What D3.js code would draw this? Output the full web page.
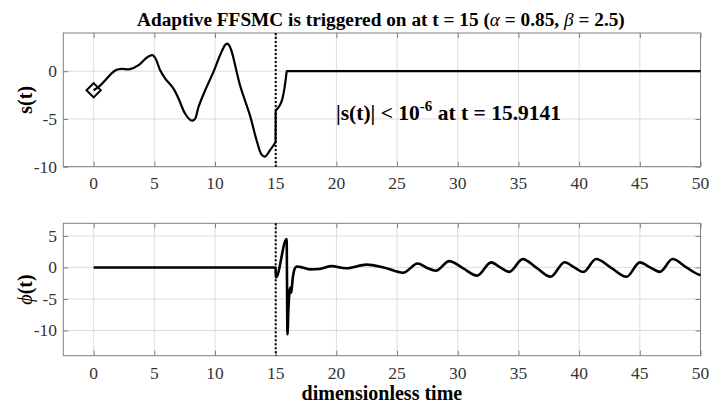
<!DOCTYPE html>
<html>
<head>
<meta charset="utf-8">
<script src="https://cdn.jsdelivr.net/npm/d3@7"></script>
<style>
  html, body { margin: 0; padding: 0; background: #fff; }
  svg text { font-family: "Liberation Serif", "DejaVu Serif", serif; }
</style>
</head>
<body>
<svg id="chart" width="712" height="405"></svg>
<script>
// ---- data ----
const xTicks = [0, 5, 10, 15, 20, 25, 30, 35, 40, 45, 50];
const sTicks = [-10, -5, 0];
const phiTicks = [-10, -5, 0, 5];
const triggerTime = 15;

// s(t) before trigger
const sTimeBefore = [0, 0.41, 0.96, 1.5, 1.9, 2.3, 3.0, 3.7, 4.39, 4.85, 5.1, 5.48, 5.9, 6.58, 7.0, 7.54, 7.95, 8.15, 8.35, 8.64, 9.19, 9.87, 10.42, 10.83, 11.0, 11.15, 11.38, 12.06, 12.88, 13.43, 13.84, 14.11, 14.52, 14.99];
const sValueBefore = [-2.0, -1.65, -0.95, -0.2, 0.15, 0.25, 0.21, 0.63, 1.44, 1.68, 1.33, 0.1, -0.77, -1.82, -2.88, -4.46, -5.09, -5.17, -5.0, -3.75, -2.0, -0.07, 1.68, 2.74, 2.88, 2.74, 2.03, -1.47, -4.63, -7.26, -8.74, -8.95, -8.3, -7.44];
// s(t) after trigger
const sTimeAfter = [15.0, 15.15, 15.35, 15.55, 15.72, 15.85, 15.9141, 20, 30, 40, 50];
const sValueAfter = [-4.1, -3.9, -3.55, -2.9, -1.8, -0.6, 0, 0, 0, 0, 0];

// phi(t)
const phiTime = [0, 5, 10, 14.99, 15.02, 15.9, 15.97, 16.05, 16.12, 16.2, 16.28, 16.4, 16.55, 16.75, 17.2, 17.8, 18.6, 19.6, 20.8, 22.5, 23.9, 25.5, 26.7, 27.4, 28.2, 29.3, 30.45, 31.6, 32.75, 33.5, 34.25, 35.35, 36.5, 37.65, 38.8, 39.6, 40.35, 41.4, 42.65, 43.9, 45.0, 45.85, 46.65, 47.7, 48.8, 49.9, 50];
const phiValue = [0, 0, 0, 0, -1.6, 4.5, -10.6, -6.5, -4.2, -3.2, -4.0, -1.8, -0.3, 0.15, 0.0, -0.3, -0.25, 0.2, -0.12, 0.45, 0.0, -0.84, 0.63, 0.0, -0.52, 1.0, -0.15, -1.3, 0.8, 0.0, -0.7, 1.32, -0.08, -1.47, 0.82, 0.0, -0.72, 1.33, -0.08, -1.48, 0.8, 0.0, -0.7, 1.33, 0.05, -1.15, -1.2];

// ---- layout ----
const FONT = "Liberation Serif, DejaVu Serif, serif";
const svg = d3.select("#chart");
const left = 63.3, right = 700.5;
const topBox = {y0: 33, y1: 166.7, dom: [-10, 4], ticks: sTicks};
const botBox = {y0: 223.3, y1: 355.7, dom: [-14, 7], ticks: phiTicks};

const x = d3.scaleLinear().domain([-2.5, 50]).range([left, right]);
const yS = d3.scaleLinear().domain(topBox.dom).range([topBox.y1, topBox.y0]);
const yP = d3.scaleLinear().domain(botBox.dom).range([botBox.y1, botBox.y0]);

const gridColor = "#dcdcdc";
const axisColor = "#808080";
const tickText = "#333333";

function drawFrame(y, box, tickLabelBaseline) {
  const g = svg.append("g");
  g.selectAll(".gx").data(xTicks).enter().append("line")
    .attr("x1", d => x(d)).attr("x2", d => x(d))
    .attr("y1", box.y0).attr("y2", box.y1)
    .attr("stroke", gridColor).attr("stroke-width", 1);
  g.selectAll(".gy").data(box.ticks).enter().append("line")
    .attr("x1", left).attr("x2", right)
    .attr("y1", d => y(d)).attr("y2", d => y(d))
    .attr("stroke", gridColor).attr("stroke-width", 1);
  const ax = g.append("g").attr("transform", `translate(0,${box.y1})`)
    .call(d3.axisBottom(x).tickValues(xTicks).tickSizeInner(-5).tickSizeOuter(0).tickFormat(""));
  const axT = g.append("g").attr("transform", `translate(0,${box.y0})`)
    .call(d3.axisTop(x).tickValues(xTicks).tickSizeInner(-5).tickSizeOuter(0).tickFormat(""));
  const ayL = g.append("g").attr("transform", `translate(${left},0)`)
    .call(d3.axisLeft(y).tickValues(box.ticks).tickSizeInner(-5).tickSizeOuter(0).tickFormat(""));
  const ayR = g.append("g").attr("transform", `translate(${right},0)`)
    .call(d3.axisRight(y).tickValues(box.ticks).tickSizeInner(-5).tickSizeOuter(0).tickFormat(""));
  [ax, axT, ayL, ayR].forEach(a => {
    a.selectAll("path").remove();
    a.selectAll("text").remove();
    a.selectAll("line").attr("stroke", axisColor);
  });
  g.append("rect").attr("x", left).attr("y", box.y0)
    .attr("width", right - left).attr("height", box.y1 - box.y0)
    .attr("fill", "none").attr("stroke", axisColor).attr("stroke-width", 1);
  g.selectAll(".tx").data(xTicks).enter().append("text")
    .attr("x", d => x(d)).attr("y", tickLabelBaseline)
    .attr("text-anchor", "middle").attr("font-size", 17.5).attr("fill", tickText)
    .attr("font-family", FONT)
    .text(d => d);
  g.selectAll(".ty").data(box.ticks).enter().append("text")
    .attr("x", 57).attr("y", d => y(d) + 6)
    .attr("text-anchor", "end").attr("font-size", 17.5).attr("fill", tickText)
    .attr("font-family", FONT)
    .text(d => d);
  g.append("line")
    .attr("x1", x(triggerTime)).attr("x2", x(triggerTime))
    .attr("y1", box.y0).attr("y2", box.y1)
    .attr("stroke", "#000").attr("stroke-width", 2).attr("stroke-dasharray", "2,2");
}

drawFrame(yS, topBox, 189);
drawFrame(yP, botBox, 379);

// s(t) lines
const lineS = d3.line().x(d => x(d[0])).y(d => yS(d[1])).curve(d3.curveCatmullRom.alpha(0.5));
const lineS2 = d3.line().x(d => x(d[0])).y(d => yS(d[1])).curve(d3.curveMonotoneX);
const before = sTimeBefore.map((t, i) => [t, sValueBefore[i]]);
const after = sTimeAfter.map((t, i) => [t, sValueAfter[i]]);
svg.append("path").attr("d", lineS(before)).attr("fill", "none").attr("stroke", "#000").attr("stroke-width", 2.2).attr("stroke-linejoin", "round");
svg.append("path").attr("d", d3.line().x(d => x(d[0])).y(d => yS(d[1]))([before[before.length - 1], after[0]]))
  .attr("fill", "none").attr("stroke", "#000").attr("stroke-width", 2.2);
svg.append("path").attr("d", lineS2(after)).attr("fill", "none").attr("stroke", "#000").attr("stroke-width", 2.2).attr("stroke-linejoin", "round");

// diamond marker at start
const d0 = before[0];
svg.append("path")
  .attr("d", d3.symbol().type(d3.symbolDiamond2).size(130)())
  .attr("transform", `translate(${x(d0[0])},${yS(d0[1])})`)
  .attr("fill", "none").attr("stroke", "#000").attr("stroke-width", 2);

// phi(t)
const lineP = d3.line().x(d => x(d[0])).y(d => yP(d[1])).curve(d3.curveMonotoneX);
svg.append("path").attr("d", lineP(phiTime.map((t, i) => [t, phiValue[i]])))
  .attr("fill", "none").attr("stroke", "#000").attr("stroke-width", 2.6).attr("stroke-linejoin", "round");

// title
const title = svg.append("text").attr("x", (left + right) / 2 - 1).attr("y", 26)
  .attr("text-anchor", "middle").attr("font-size", 19.3).attr("font-weight", "bold").attr("fill", "#000")
  .attr("font-family", FONT);
title.append("tspan").text("Adaptive FFSMC is triggered on at t = 15 (");
title.append("tspan").attr("font-style", "italic").attr("font-weight", "normal").text("α");
title.append("tspan").text(" = 0.85, ");
title.append("tspan").attr("font-style", "italic").attr("font-weight", "normal").text("β");
title.append("tspan").text(" = 2.5)");

// annotation
const ann = svg.append("text").attr("x", 336).attr("y", 120)
  .attr("font-size", 21.5).attr("font-weight", "bold").attr("fill", "#000").attr("font-family", FONT);
ann.append("tspan").text("|s(t)| < 10");
ann.append("tspan").attr("dy", -9).attr("font-size", 15).text("-6");
ann.append("tspan").attr("dy", 9).text(" at t = 15.9141");

// axis labels
svg.append("text").attr("transform", `translate(32,${(topBox.y0 + topBox.y1) / 2}) rotate(-90)`)
  .attr("text-anchor", "middle").attr("font-size", 20).attr("font-weight", "bold").attr("font-family", FONT).text("s(t)");
const pl = svg.append("text").attr("transform", `translate(32,${(botBox.y0 + botBox.y1) / 2}) rotate(-90)`)
  .attr("text-anchor", "middle").attr("font-size", 20).attr("font-weight", "bold").attr("font-family", FONT);
pl.append("tspan").attr("font-style", "italic").attr("font-weight", "normal").text("ϕ");
pl.append("tspan").text("(t)");
svg.append("text").attr("x", (left + right) / 2).attr("y", 400)
  .attr("text-anchor", "middle").attr("font-size", 20).attr("font-weight", "bold").attr("font-family", FONT).text("dimensionless time");
</script>
</body>
</html>
